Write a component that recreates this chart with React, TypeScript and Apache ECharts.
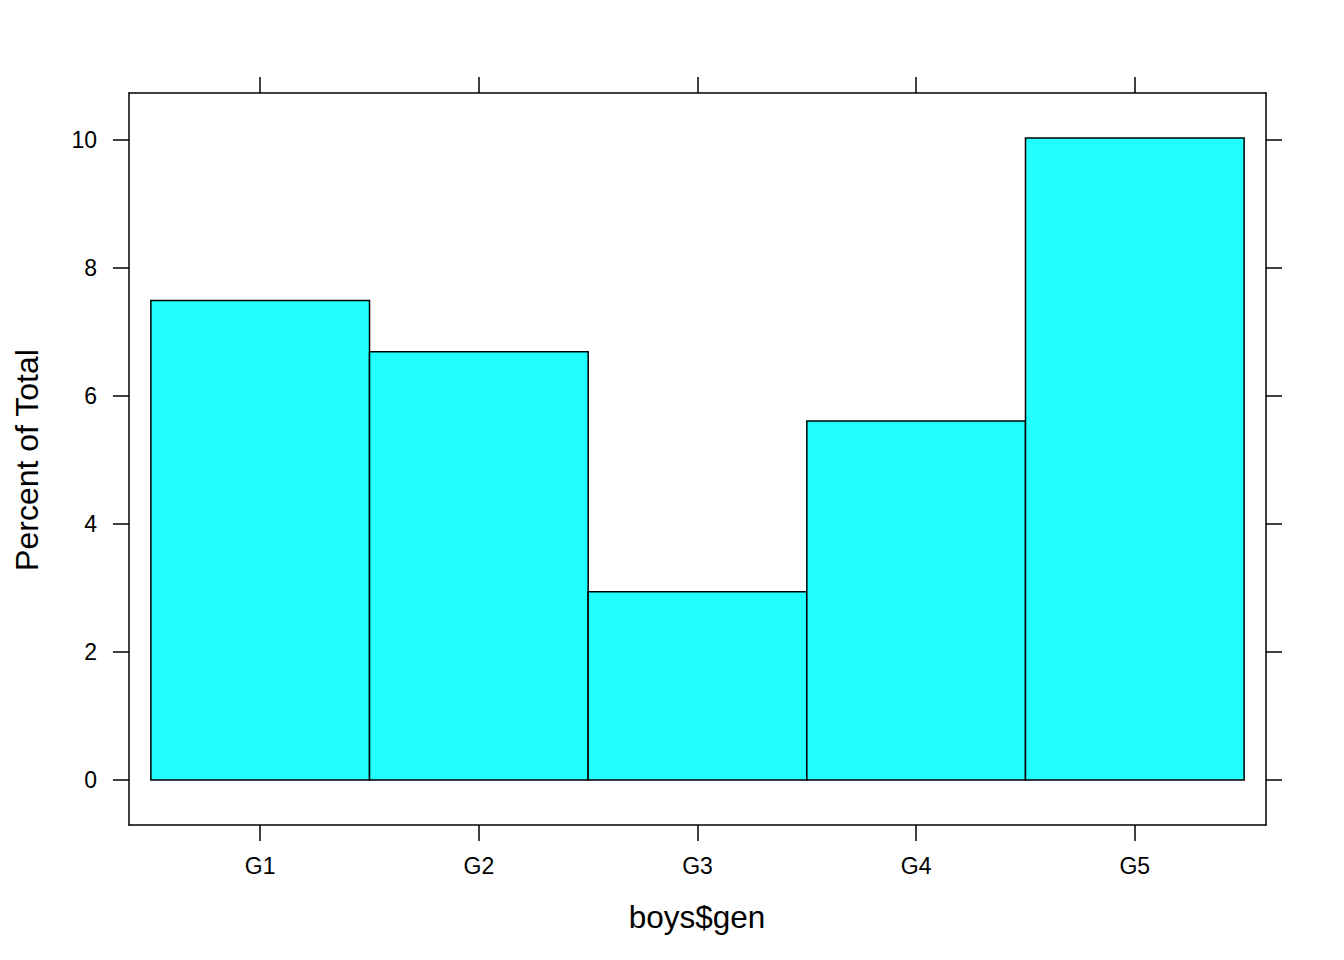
import React, { useEffect, useRef } from "react";
import * as echarts from "echarts";

const categories = ["G1", "G2", "G3", "G4", "G5"];
const percents = [7.49, 6.69, 2.94, 5.61, 10.03];
const yTicks = [0, 2, 4, 6, 8, 10];
const xPositions = [1, 2, 3, 4, 5];
const xTitle = "boys$gen";
const yTitle = "Percent of Total";

const FONT = "'Liberation Sans', Arial, Helvetica, sans-serif";

export default function App() {
  const ref = useRef<HTMLDivElement>(null);
  useEffect(() => {
    if (!ref.current) return;
    const chart = echarts.init(ref.current, undefined, { renderer: "svg" });
    const axisLine = { show: true, onZero: false, lineStyle: { color: "#000", width: 1.5 } };
    const tickStyle = { color: "#000", width: 1.5 };
    const data = percents.map((v, i) => [xPositions[i], v]);
    chart.setOption({
      animation: false,
      backgroundColor: "#fff",
      grid: { left: 129, right: 78, top: 93, bottom: 135, containLabel: false },
      xAxis: [
        {
          type: "value",
          position: "bottom",
          min: 0.4,
          max: 5.6,
          axisLine,
          splitLine: { show: false },
          axisTick: { show: true, length: 16, lineStyle: tickStyle, customValues: xPositions },
          axisLabel: {
            show: true,
            customValues: xPositions,
            formatter: (v: number) => categories[Math.round(v) - 1] ?? "",
            color: "#000",
            fontSize: 23,
            fontFamily: FONT,
            margin: 29,
          },
        },
        {
          type: "value",
          position: "top",
          min: 0.4,
          max: 5.6,
          axisLine,
          splitLine: { show: false },
          axisTick: { show: true, length: 16, lineStyle: tickStyle, customValues: xPositions },
          axisLabel: { show: false },
        },
      ],
      yAxis: [
        {
          type: "value",
          position: "left",
          min: -0.702,
          max: 10.732,
          axisLine,
          splitLine: { show: false },
          axisTick: { show: true, length: 16, lineStyle: tickStyle, customValues: yTicks },
          axisLabel: {
            show: true,
            customValues: yTicks,
            color: "#000",
            fontSize: 23,
            fontFamily: FONT,
            margin: 32,
          },
        },
        {
          type: "value",
          position: "right",
          min: -0.702,
          max: 10.732,
          axisLine,
          splitLine: { show: false },
          axisTick: { show: true, length: 16, lineStyle: tickStyle, customValues: yTicks },
          axisLabel: { show: false },
        },
      ],
      series: [
        {
          type: "custom",
          xAxisIndex: 0,
          yAxisIndex: 0,
          data,
          renderItem: (params: any, api: any) => {
            const x = api.value(0);
            const y = api.value(1);
            const p1 = api.coord([x - 0.5, y]);
            const p2 = api.coord([x + 0.5, 0]);
            return {
              type: "rect",
              shape: { x: p1[0], y: p1[1], width: p2[0] - p1[0], height: p2[1] - p1[1] },
              style: { fill: "#22FFFF", stroke: "#000", lineWidth: 1.5 },
            };
          },
        },
      ],
      graphic: [
        {
          type: "text",
          x: 697,
          y: 917,
          style: {
            text: xTitle,
            fill: "#000",
            font: `31.5px ${FONT}`,
            textAlign: "center",
            textVerticalAlign: "middle",
          },
        },
        {
          type: "text",
          x: 27,
          y: 460,
          rotation: Math.PI / 2,
          style: {
            text: yTitle,
            fill: "#000",
            font: `32px ${FONT}`,
            textAlign: "center",
            textVerticalAlign: "middle",
          },
        },
      ],
    });
    return () => chart.dispose();
  }, []);
  return (
    <div
      ref={ref}
      style={{ position: "absolute", left: 0, top: 0, width: 1344, height: 960 }}
    />
  );
}
